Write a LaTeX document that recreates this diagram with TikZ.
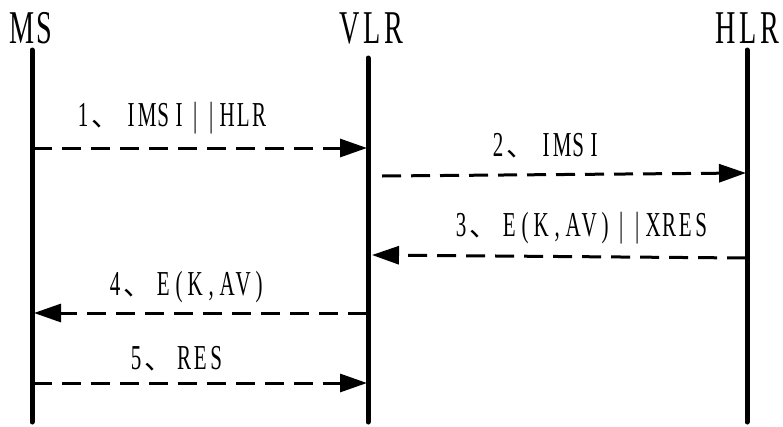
\documentclass[tikz,border=0pt]{standalone}
\usepackage{fontspec}
\setmainfont{Liberation Serif}
\newfontfamily\narrowfont[FakeStretch=0.6]{Liberation Serif}
\newfontfamily\cjk{Noto Sans CJK SC}
\usetikzlibrary{arrows.meta}
\newlength{\fwwd}
\def\fw#1{\fwi#1\relax}
\def\fwi#1{\ifx#1\relax\else\makebox[\fwwd]{#1}\expandafter\fwi\fi}
\newcommand{\dun}{\makebox[2\fwwd][l]{\cjk\fontsize{28}{28}\selectfont 、}}
\begin{document}
\begin{tikzpicture}[x=1pt,y=-1pt,
  lifeline/.style={line width=5pt,line cap=round},
  title/.style={font=\narrowfont\fontsize{47}{47}\selectfont\setlength{\fwwd}{22pt},inner sep=0pt},
  msg/.style={line width=3pt,dash pattern=on 19pt off 10pt,-{Triangle[length=27pt,width=18pt]}},
  lbl/.style={font=\narrowfont\fontsize{35}{35}\selectfont\setlength{\fwwd}{16pt},inner sep=0pt}]
\useasboundingbox (0,0) rectangle (783,426);
% titles
\node[title] (ms) at (33,28) {\fw{MS}};
\node[title] (vlr) at (372,28) {\fw{VLR}};
\node[title] (hlr) at (748,28) {\fw{HLR}};
% lifelines
\coordinate (msT) at (32,50); \coordinate (msB) at (32,422);
\coordinate (vlrT) at (368,58); \coordinate (vlrB) at (368,422);
\coordinate (hlrT) at (747,50); \coordinate (hlrB) at (747,422);
\draw[lifeline] (msT) -- (msB);
\draw[lifeline] (vlrT) -- (vlrB);
\draw[lifeline] (hlrT) -- (hlrB);
% messages
\coordinate (m1s) at (33,148); \coordinate (m1e) at (367,148);
\coordinate (m2s) at (382,176); \coordinate (m2e) at (746,173);
\coordinate (m3s) at (746,258); \coordinate (m3e) at (372,255);
\coordinate (m4s) at (367,313); \coordinate (m4e) at (34,313);
\coordinate (m5s) at (33,383); \coordinate (m5e) at (367,383);
\draw[msg] (m1s) -- (m1e);
\draw[msg] (m2s) -- (m2e);
\draw[msg] (m3s) -- (m3e);
\draw[msg] (m4s) -- (m4e);
\draw[msg] (m5s) -- (m5e);
% labels
\node[lbl,anchor=west] (l1) at (75,118) {\fw{1}\dun\fw{IMSI||HLR}};
\node[lbl,anchor=west] (l2) at (490,146) {\fw{2}\dun\fw{IMSI}};
\node[lbl,anchor=west] (l3) at (453,228) {\fw{3}\dun\fw{E(K,AV)||XRES}};
\node[lbl,anchor=west] (l4) at (107,287) {\fw{4}\dun\fw{E(K,AV)}};
\node[lbl,anchor=west] (l5) at (128,359) {\fw{5}\dun\fw{RES}};
\end{tikzpicture}
\end{document}
